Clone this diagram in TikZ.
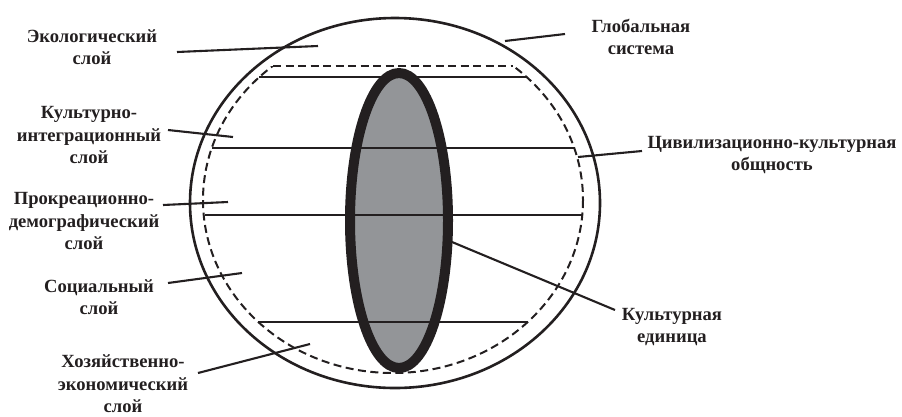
\documentclass[tikz,border=0pt]{standalone}
\usepackage{fontspec}
\setmainfont{Liberation Serif}
\definecolor{ink}{HTML}{231F20}
\definecolor{fillgray}{HTML}{939598}
\begin{document}
\begin{tikzpicture}[x=1pt,y=-1pt,
  lbl/.style={font=\bfseries\fontsize{18.6}{22.5}\selectfont, text=ink, align=center, inner sep=0pt},
  leader/.style={draw=ink, line width=2.1pt},
  chord/.style={draw=ink, line width=2.2pt},
  dashline/.style={draw=ink, line width=2pt, dash pattern=on 8pt off 4.5pt}]
\useasboundingbox (0,0) rectangle (902,416);
% outer ellipse (global system)
\draw[ink, line width=2.6pt] (395,203) ellipse [x radius=205, y radius=185];
% dashed civilisational community
\begin{scope}
  \clip (0,66) rectangle (902,416);
  \draw[dashline] (393,200) ellipse [x radius=190, y radius=173];
\end{scope}
\coordinate (dl) at (273,66);
\coordinate (dr) at (513,66);
\draw[dashline] (dl) -- (dr);
% cultural unit fill
\fill[fillgray] (399,220.5) ellipse [x radius=49, y radius=147.5];
% chords (layers)
\coordinate (c1l) at (259,77);  \coordinate (c1r) at (527,77);
\coordinate (c2l) at (212,148); \coordinate (c2r) at (575,148);
\coordinate (c3l) at (205,215); \coordinate (c3r) at (582,215);
\coordinate (c4l) at (258,322); \coordinate (c4r) at (528,322);
\draw[chord] (c1l) -- (c1r);
\draw[chord] (c2l) -- (c2r);
\draw[chord] (c3l) -- (c3r);
\draw[chord] (c4l) -- (c4r);
% cultural unit border
\draw[ink, line width=10pt] (399,220.5) ellipse [x radius=49, y radius=147.5];
% labels
\node[lbl] (eco) at (92,47) {Экологический\\слой};
\node[lbl] (glob) at (641,37) {Глобальная\\система};
\node[lbl] (kult) at (89,135) {Культурно-\\интеграционный\\слой};
\node[lbl] (prok) at (84,221) {Прокреационно-\\демографический\\слой};
\node[lbl] (soc) at (99,297) {Социальный\\слой};
\node[lbl] (hoz) at (123,384) {Хозяйственно-\\экономический\\слой};
\node[lbl] (civ) at (772,155) {Цивилизационно-культурная\\общность};
\node[lbl] (unit) at (672,327) {Культурная\\единица};
% leader lines
\coordinate (eco-a) at (177,52);  \coordinate (eco-b) at (318,46);
\coordinate (glob-a) at (565,34); \coordinate (glob-b) at (505,41);
\coordinate (kult-a) at (168,130); \coordinate (kult-b) at (233,137);
\coordinate (prok-a) at (163,205); \coordinate (prok-b) at (228,202);
\coordinate (soc-a) at (168,283); \coordinate (soc-b) at (242,273);
\coordinate (hoz-a) at (198,373); \coordinate (hoz-b) at (310,344);
\coordinate (civ-a) at (642,151); \coordinate (civ-b) at (578,157);
\coordinate (unit-a) at (615,310); \coordinate (unit-b) at (452,242);
\draw[leader] (eco-a) -- (eco-b);
\draw[leader] (glob-a) -- (glob-b);
\draw[leader] (kult-a) -- (kult-b);
\draw[leader] (prok-a) -- (prok-b);
\draw[leader] (soc-a) -- (soc-b);
\draw[leader] (hoz-a) -- (hoz-b);
\draw[leader] (civ-a) -- (civ-b);
\draw[leader] (unit-a) -- (unit-b);
\end{tikzpicture}
\end{document}
